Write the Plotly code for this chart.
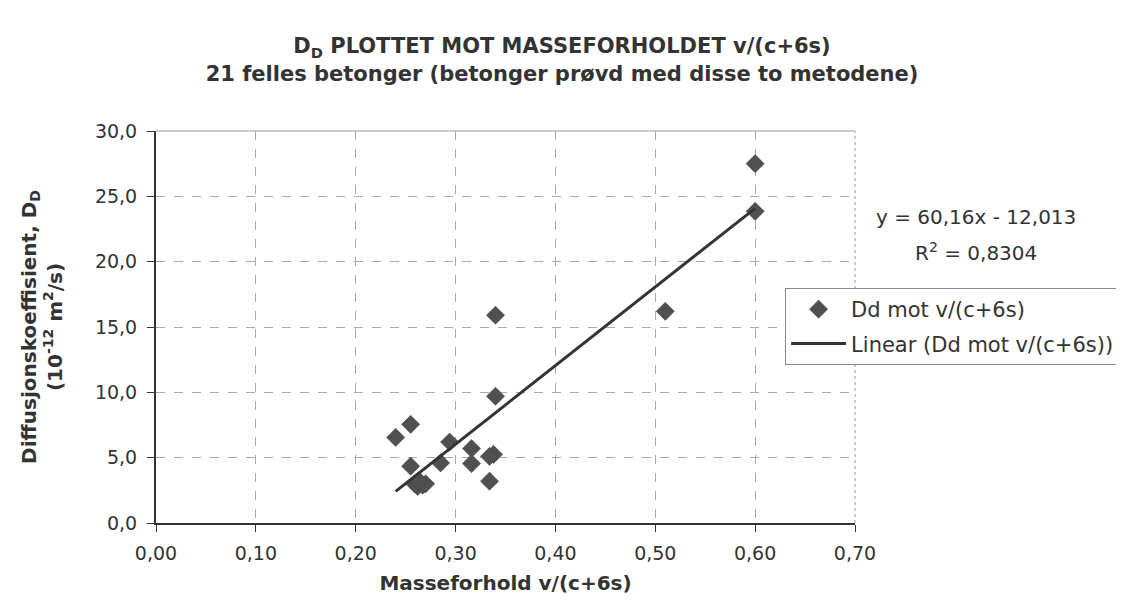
import numpy as np
import plotly.graph_objects as go

# Data: mass ratio v/(c+6s) and diffusion coefficient D_D (10^-12 m2/s)
x_ratio = [0.600, 0.600, 0.510, 0.340, 0.340, 0.255, 0.240, 0.294, 0.316, 0.338,
           0.334, 0.255, 0.285, 0.316, 0.334, 0.259, 0.262, 0.265, 0.267, 0.270, 0.263]
d_coef = [27.5, 23.85, 16.2, 15.9, 9.7, 7.55, 6.55, 6.2, 5.7, 5.25,
          5.1, 4.35, 4.6, 4.55, 3.2, 3.0, 2.8, 3.1, 2.9, 3.0, 3.2]

slope = 60.16
intercept = -12.013
r2_text = "0,8304"

x_ticks = [0.0, 0.1, 0.2, 0.3, 0.4, 0.5, 0.6, 0.7]
y_ticks = [0, 5, 10, 15, 20, 25, 30]

FONT = "DejaVu Sans, Liberation Sans, Arial, sans-serif"
TXT = "#333333"
FS = 19

xl = np.array([min(x_ratio), max(x_ratio)])
yl = slope * xl + intercept

fig = go.Figure()
fig.add_trace(go.Scatter(
    x=x_ratio, y=d_coef, mode="markers", name="Dd mot v/(c+6s)",
    legendgroup="a",
    marker=dict(symbol="diamond", size=14, color="#505050",
                line=dict(width=0.5, color="#404040")),
))
fig.add_trace(go.Scatter(
    x=xl, y=yl, mode="lines", name="Linear (Dd mot v/(c+6s))",
    legendgroup="b",
    line=dict(color="#333333", width=3),
))

fig.update_layout(
    width=1124, height=614,
    paper_bgcolor="white", plot_bgcolor="white",
    margin=dict(l=148, r=275, t=123, b=99),
    separators=",.",
    font=dict(family=FONT, size=FS, color=TXT),
    title=dict(
        text="<b>D<sub>D</sub> PLOTTET MOT MASSEFORHOLDET v/(c+6s)<br>21 felles betonger (betonger prøvd med disse to metodene)</b>",
        x=0.4929, xanchor="center", y=0.926, yanchor="top",
        font=dict(family=FONT, size=21, color=TXT),
    ),
    showlegend=True,
    legend=dict(
        x=0.900, y=0.5995, xanchor="left", yanchor="top",
        bgcolor="white", bordercolor="#888888", borderwidth=1,
        font=dict(family=FONT, size=21, color=TXT),
        itemwidth=55, traceorder="grouped", tracegroupgap=4,
    ),
)

fig.update_xaxes(
    range=[0, 0.7], tickvals=x_ticks, tickformat=".2f",
    showgrid=True, gridcolor="#aaaaaa", griddash="dash", gridwidth=1,
    showline=True, linecolor="#333333", linewidth=2, mirror=False,
    ticks="outside", ticklen=7, tickcolor="#333333",
    ticklabelstandoff=5,
    zeroline=False, automargin=False,
    tickfont=dict(family=FONT, size=FS, color=TXT),
    title=dict(text="<b>Masseforhold v/(c+6s)</b>", standoff=13,
               font=dict(family=FONT, size=20, color=TXT)),
)
fig.update_yaxes(
    range=[0, 30], tickvals=y_ticks, tickformat=".1f",
    showgrid=True, gridcolor="#aaaaaa", griddash="dash", gridwidth=1,
    showline=True, linecolor="#333333", linewidth=2,
    ticks="outside", ticklen=7, tickcolor="#333333",
    ticklabelstandoff=6,
    zeroline=False, automargin=False,
    tickfont=dict(family=FONT, size=FS, color=TXT),
    title=dict(text="<b>Diffusjonskoeffisient, D<sub>D</sub><br>(10<sup>-12</sup> m<sup>2</sup>/s)</b>",
               standoff=27,
               font=dict(family=FONT, size=20, color=TXT)),
)

# right and top plot border (thin gray)
fig.add_shape(type="line", xref="paper", yref="paper", x0=1, x1=1, y0=0, y1=1,
              line=dict(color="#999999", width=1, dash="dot"))
fig.add_shape(type="line", xref="paper", yref="paper", x0=0, x1=1, y0=1, y1=1,
              line=dict(color="#999999", width=1))

eq_line = f"y = {slope:.2f}x - {abs(intercept):.3f}".replace(".", ",")
fig.add_annotation(
    xref="paper", yref="paper", x=1.1726, y=0.7806, xanchor="center", yanchor="middle",
    text=eq_line, showarrow=False, align="center",
    font=dict(family=FONT, size=20, color=TXT),
)
fig.add_annotation(
    xref="paper", yref="paper", x=1.1726, y=0.6913, xanchor="center", yanchor="middle",
    text=f"R<sup>2</sup> = {r2_text}", showarrow=False, align="center",
    font=dict(family=FONT, size=20, color=TXT),
)

fig.write_html("out.html")
